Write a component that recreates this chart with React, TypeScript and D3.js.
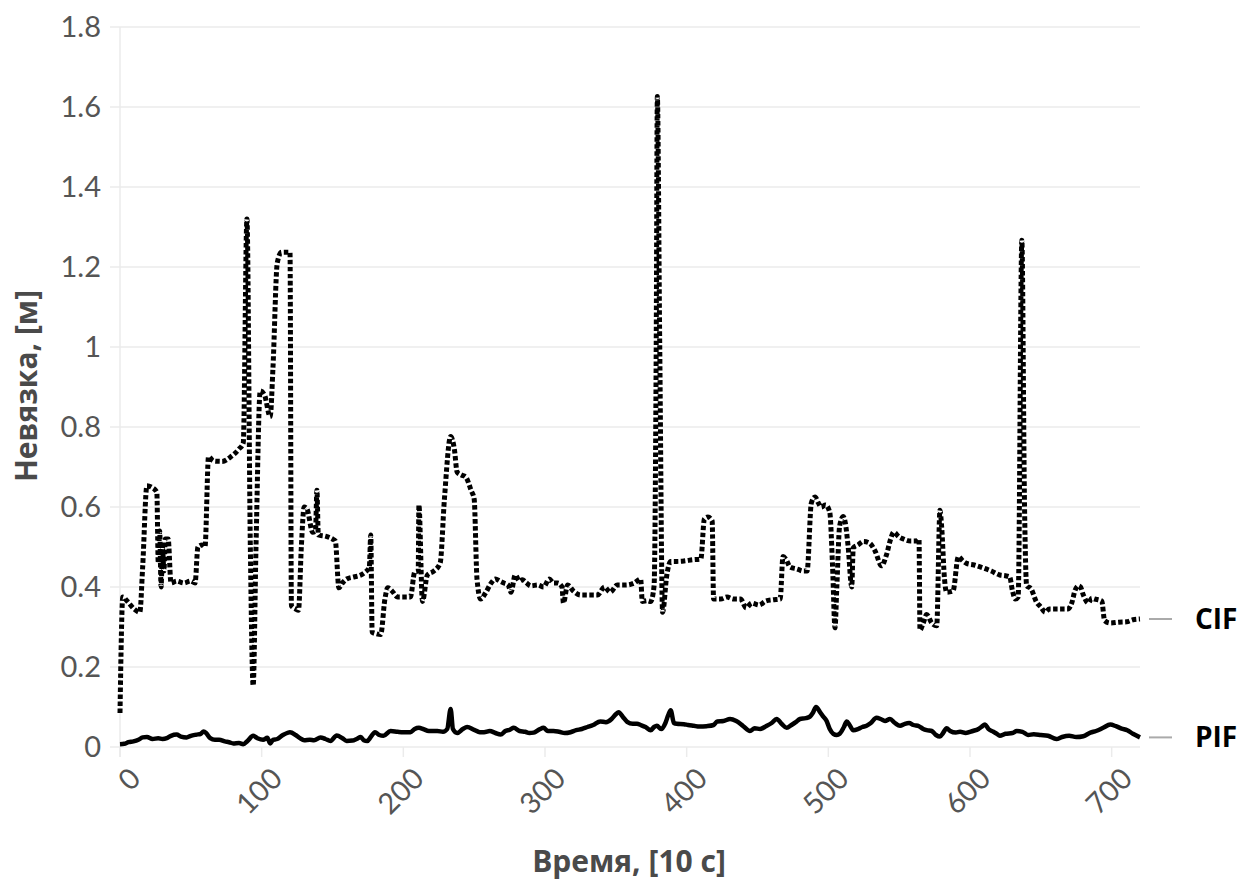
import React from "react";
import * as d3 from "d3";

const cifData: [number, number][] = [
[0,0.085],[2,0.375],[5,0.365],[10,0.345],[14,0.337],[16,0.45],[19,0.653],[22,0.65],[26,0.637],[27,0.46],[28,0.54],[29,0.40],[30,0.50],[31,0.44],[32,0.52],[34,0.52],[36,0.41],[40,0.415],[45,0.41],[50,0.415],[53,0.41],[55,0.50],[58,0.505],[60,0.50],[62.5,0.726],[66,0.715],[72,0.714],[78,0.725],[84,0.745],[87,0.76],[89.6,1.32],[92,0.5],[94,0.153],[96,0.5],[99,0.89],[102,0.88],[106,0.826],[108,0.95],[111,1.21],[114,1.237],[120,1.237],[121,0.353],[124,0.345],[126,0.342],[128,0.5],[130,0.60],[132,0.595],[136,0.537],[138,0.54],[139,0.642],[140,0.53],[145,0.527],[150,0.52],[152,0.515],[154.5,0.398],[157,0.41],[160,0.42],[165,0.425],[170,0.43],[173,0.437],[176,0.45],[177,0.53],[178,0.287],[181,0.283],[184,0.281],[187,0.37],[189,0.398],[192,0.39],[196,0.375],[200,0.375],[205,0.375],[208,0.437],[210.5,0.44],[211,0.605],[213.5,0.364],[217,0.43],[221.6,0.44],[226,0.46],[229,0.62],[233.4,0.776],[236,0.745],[238,0.687],[241,0.68],[244,0.675],[248,0.64],[250,0.62],[252,0.42],[254.6,0.37],[258,0.385],[262,0.41],[265,0.42],[268,0.415],[271,0.41],[274,0.405],[276,0.387],[279,0.43],[282,0.415],[284,0.418],[287,0.41],[290,0.403],[295,0.405],[299,0.40],[303,0.42],[306,0.41],[309,0.41],[312,0.40],[313,0.36],[316,0.405],[320,0.39],[325,0.38],[330,0.38],[337,0.38],[342,0.40],[346,0.387],[351,0.405],[357,0.405],[363,0.41],[367.5,0.42],[368.7,0.364],[372,0.366],[374.6,0.364],[377,0.403],[378.5,1.0],[379.3,1.626],[381,1.0],[383,0.337],[386,0.43],[388.7,0.464],[393,0.464],[398,0.465],[404,0.468],[410,0.47],[412.5,0.57],[415,0.575],[418,0.565],[419,0.37],[424,0.37],[428.5,0.375],[433,0.37],[438,0.37],[442,0.348],[446,0.36],[451,0.355],[456,0.365],[461,0.368],[466,0.37],[468,0.476],[470,0.47],[473,0.45],[478,0.445],[482,0.44],[485,0.44],[488,0.61],[490.6,0.625],[493,0.61],[495,0.60],[498,0.605],[501,0.587],[503,0.45],[504.7,0.298],[506,0.4],[508,0.553],[510.6,0.576],[512,0.56],[514,0.50],[516.5,0.40],[517.6,0.498],[521,0.505],[524.7,0.514],[529,0.51],[533,0.49],[537.6,0.453],[541,0.48],[544,0.52],[546,0.537],[550,0.525],[553,0.52],[558,0.515],[562,0.515],[564,0.52],[564.7,0.292],[567,0.31],[569.4,0.331],[573,0.31],[576.5,0.303],[578.8,0.592],[580,0.55],[582,0.42],[583.5,0.387],[588,0.39],[591.8,0.476],[595,0.465],[597.6,0.459],[603,0.455],[609,0.448],[615,0.44],[621,0.43],[625,0.428],[628,0.425],[630,0.39],[632,0.37],[634,0.375],[636.6,1.267],[638.5,0.6],[640,0.403],[643,0.396],[647,0.362],[650,0.35],[653,0.337],[656,0.345],[660,0.345],[665,0.345],[669,0.345],[672,0.362],[674,0.39],[676.5,0.403],[678,0.4],[680,0.38],[683.5,0.36],[686,0.372],[688,0.37],[693,0.365],[695,0.316],[699,0.31],[705,0.312],[710.6,0.313],[715,0.318],[720,0.32]
];

const pifData: [number, number][] = [
[0,0.007],[3,0.008],[6,0.012],[9.5,0.014],[13,0.018],[16,0.024],[19,0.025],[23,0.02],[27,0.022],[30,0.02],[33,0.022],[36,0.028],[40,0.031],[43,0.026],[47,0.024],[50,0.028],[54,0.031],[57,0.033],[59,0.039],[61,0.034],[63.7,0.022],[67,0.018],[70,0.018],[74,0.014],[77,0.012],[80,0.009],[84,0.01],[87,0.007],[90,0.015],[94,0.028],[97,0.022],[101,0.018],[104,0.023],[106,0.009],[108,0.018],[111,0.02],[115,0.03],[118,0.035],[120,0.037],[124,0.03],[127,0.022],[130,0.017],[134,0.018],[137,0.017],[141.5,0.024],[145,0.02],[148.6,0.015],[153,0.029],[157,0.022],[160,0.015],[164,0.016],[167,0.02],[170,0.025],[172,0.017],[174.5,0.015],[177,0.025],[180,0.037],[183,0.03],[186,0.028],[191,0.04],[196,0.038],[200,0.037],[205,0.037],[208,0.045],[211,0.048],[214,0.045],[218,0.04],[224,0.04],[228,0.038],[231,0.045],[233.4,0.095],[235,0.045],[238,0.035],[242,0.045],[245,0.05],[250,0.043],[254,0.037],[257,0.037],[261,0.04],[265,0.035],[268.7,0.031],[272,0.04],[275,0.043],[278,0.048],[282,0.04],[286,0.038],[289,0.035],[292,0.036],[296,0.044],[299,0.048],[302,0.04],[306,0.04],[310,0.038],[314,0.035],[318,0.037],[322,0.042],[326,0.045],[330,0.05],[334,0.055],[339,0.064],[343,0.062],[347,0.07],[350,0.082],[352,0.087],[355,0.075],[358,0.063],[362,0.058],[365,0.058],[367.5,0.055],[371,0.05],[374.6,0.042],[377,0.05],[379,0.053],[382,0.045],[385,0.06],[387,0.08],[388.7,0.092],[391,0.06],[393,0.058],[398,0.057],[401,0.055],[405,0.053],[409,0.051],[414,0.052],[419,0.055],[421.6,0.064],[426,0.065],[430.6,0.07],[435,0.065],[440,0.052],[444.7,0.04],[448,0.047],[451.8,0.045],[456,0.052],[460,0.06],[463.5,0.07],[467,0.058],[470.6,0.048],[474,0.055],[477,0.062],[480,0.07],[484,0.072],[487,0.076],[489,0.085],[491.3,0.1],[494,0.088],[496,0.078],[498.8,0.065],[501,0.045],[503.5,0.033],[506,0.03],[508,0.033],[511,0.05],[513,0.064],[515,0.055],[517.6,0.042],[521,0.045],[524,0.05],[527,0.053],[530,0.06],[534,0.073],[537,0.07],[540,0.065],[543.5,0.07],[547,0.06],[550.6,0.053],[554,0.058],[557,0.06],[560,0.055],[564,0.052],[567,0.045],[569.4,0.042],[573,0.04],[576,0.03],[578.8,0.026],[581,0.035],[583.5,0.047],[586,0.04],[590,0.036],[593,0.038],[597,0.035],[602,0.04],[606,0.045],[608,0.05],[610.6,0.056],[613,0.045],[616.5,0.038],[619,0.033],[621,0.028],[625,0.033],[630,0.035],[633,0.04],[637,0.038],[641,0.03],[645,0.032],[650,0.03],[655,0.028],[661,0.02],[665,0.025],[670,0.028],[675,0.025],[680,0.027],[685,0.036],[689,0.04],[694,0.048],[699,0.056],[703,0.052],[707,0.046],[711,0.042],[715,0.033],[720,0.024]
];

const xTicks = [0, 100, 200, 300, 400, 500, 600, 700];
const yTicks = [0, 0.2, 0.4, 0.6, 0.8, 1, 1.2, 1.4, 1.6, 1.8];
const seriesNames = ["CIF", "PIF"];
const xTitle = "Время, [10 с]";
const yTitle = "Невязка, [м]";

const W = 1244, H = 883;
const TICKFONT = "Lato, 'Open Sans', 'Noto Sans', sans-serif";
const TITLEFONT = "'Open Sans', 'Noto Sans', sans-serif";

export default function App() {
  const x = d3.scaleLinear().domain([0, 720]).range([120, 1140]);
  const y = d3.scaleLinear().domain([0, 1.8]).range([747, 27]);
  const line = d3.line<[number, number]>().x(d => x(d[0])).y(d => y(d[1])).curve(d3.curveMonotoneX);
  const lastC = cifData[cifData.length - 1][1];
  const lastP = pifData[pifData.length - 1][1];
  return (
    <svg width={W} height={H} style={{ position: "absolute", left: 0, top: 0, background: "#fff" }}>
      {yTicks.map(t => (
        <g key={"y" + t}>
          <line x1={110} x2={1140} y1={y(t)} y2={y(t)} stroke="#ebebeb" strokeWidth={1.5} />
          <text x={101} y={y(t)} dy="0.36em" textAnchor="end" fontFamily={TICKFONT} fontWeight={400} fontSize={29} fill="#555">{d3.format("~g")(t)}</text>
        </g>
      ))}
      <line x1={120} x2={120} y1={27} y2={757} stroke="#ebebeb" strokeWidth={1.5} />
      {xTicks.map(t => (
        <g key={"x" + t}>
          <line x1={x(t)} x2={x(t)} y1={747} y2={757} stroke="#ebebeb" strokeWidth={1.5} />
          <text transform={`translate(${x(t) + 8},${766}) rotate(-45)`} textAnchor="end" dy="0.7em" fontFamily={TICKFONT} fontWeight={400} fontSize={29} fill="#555">{t}</text>
        </g>
      ))}
      <path d={line(cifData) || ""} fill="none" stroke="#000" strokeWidth={5} strokeDasharray="4.5 2.5" />
      <path d={line(pifData) || ""} fill="none" stroke="#000" strokeWidth={4.5} strokeLinejoin="round" />
      {[lastC, lastP].map((v, i) => (
        <g key={seriesNames[i]}>
          <line x1={1149} x2={1172} y1={y(v)} y2={y(v)} stroke="#aaa" strokeWidth={2} />
          <text x={1195} y={y(v)} dy="0.36em" fontFamily={TITLEFONT} fontWeight="bold" fontSize={28} fill="#000">{seriesNames[i]}</text>
        </g>
      ))}
      <text x={629} y={872} textAnchor="middle" fontFamily={TITLEFONT} fontWeight="bold" fontSize={30} fill="#4a4a4a">{xTitle}</text>
      <text transform="translate(37,386) rotate(-90)" textAnchor="middle" fontFamily={TITLEFONT} fontWeight="bold" fontSize={30} fill="#4a4a4a">{yTitle}</text>
    </svg>
  );
}
